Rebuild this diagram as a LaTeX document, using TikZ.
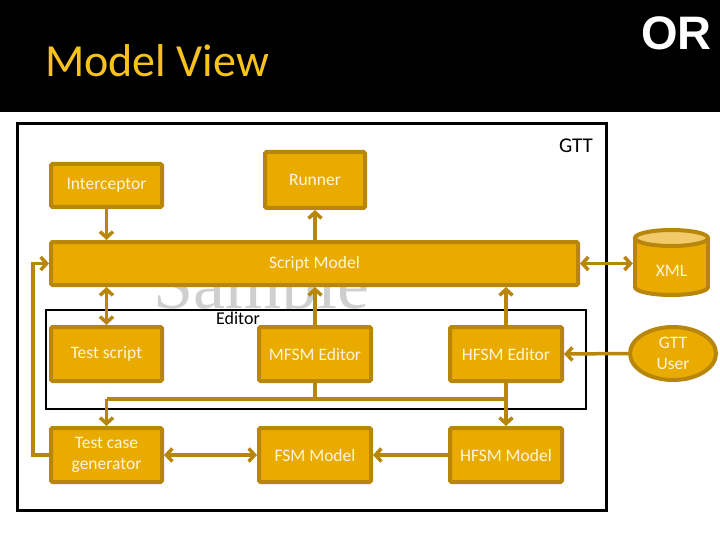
\documentclass[tikz,border=0pt]{standalone}
\usepackage{fontspec}
\setmainfont{Carlito}
\newfontfamily\arialf{Liberation Sans}
\newfontfamily\serifw{Liberation Serif}
\usetikzlibrary{arrows.meta,shapes.geometric}
\definecolor{boxfill}{HTML}{EAAB00}
\definecolor{boxline}{HTML}{B8860B}
\definecolor{boxtext}{HTML}{FFF6DA}
\definecolor{titley}{HTML}{F7C21C}
\definecolor{capfill}{HTML}{F2CA6A}
\definecolor{wmark}{HTML}{CFCFCF}
\begin{document}
\begin{tikzpicture}[x=1pt,y=-1pt,
  blk/.style={rectangle, rounded corners=1.5pt, draw=boxline, fill=boxfill, line width=4pt,
    text=boxtext, font=\fontsize{17.5}{21}\selectfont, align=center, inner sep=0pt},
  conn/.style={draw=boxline, line width=3.5pt},
  tipend/.style={-{Straight Barb[length=6pt,width=13pt]}},
  tipboth/.style={{Straight Barb[length=6pt,width=13pt]}-{Straight Barb[length=6pt,width=13pt]}},
  frame/.style={draw=black, line width=3pt},
  lbl/.style={text=black, font=\fontsize{18}{20}\selectfont, inner sep=0pt},
  cyl/.style={draw=boxline, line width=4pt}
]
\useasboundingbox (0,0) rectangle (720,540);
\fill[white] (0,0) rectangle (720,540);
\fill[black] (0,0) rectangle (720,112);
\node[anchor=base west, text=titley, font=\fontsize{46}{48}\selectfont, inner sep=0pt] (title) at (45,77) {Model View};
\node[anchor=base east, text=white, font=\arialf\bfseries\fontsize{47}{50}\selectfont, inner sep=0pt] (or) at (712,50) {OR};

% GTT frame
\draw[frame, fill=white] (17.5,123.5) rectangle (606.5,510.5);
\node[lbl, font=\fontsize{21}{22}\selectfont] (gttl) at (576,146) {GTT};

% watermark
\node[anchor=base, text=wmark, font=\serifw\fontsize{72}{72}\selectfont, inner sep=0pt] (wm) at (261,308) {Sample};

% Editor frame
\draw[draw=black, line width=2.5pt, fill=white] (46,310) rectangle (586,409);
\node[lbl] (edl) at (238,318.5) {Editor};

% nodes
\node[blk, minimum width=111pt, minimum height=43pt] (intc) at (106.5,185.5) {Interceptor};
\node[blk, minimum width=100pt, minimum height=56pt] (run) at (315,180) {Runner};
\node[blk, minimum width=527pt, minimum height=43pt] (sm) at (314.5,263.5) {Script Model};
\node[blk, minimum width=111pt, minimum height=54pt] (ts) at (106.5,354) {Test script};
\node[blk, minimum width=112pt, minimum height=54pt] (me) at (315,354) {MFSM Editor};
\node[blk, minimum width=112pt, minimum height=54pt] (he) at (506,354) {HFSM Editor};
\node[blk, minimum width=111pt, minimum height=54pt] (tcg) at (106.5,455) {Test case\\generator};
\node[blk, minimum width=112pt, minimum height=54pt] (fm) at (315,455) {FSM Model};
\node[blk, minimum width=112pt, minimum height=54pt] (hm) at (506,455) {HFSM Model};

% XML cylinder
\fill[boxfill] (635,238) rectangle (708,287);
\fill[boxfill] (671.5,287) ellipse [x radius=36.5pt, y radius=8pt];
\begin{scope}
  \clip (620,287) rectangle (720,300);
  \draw[cyl] (671.5,287) ellipse [x radius=36.5pt, y radius=8pt];
\end{scope}
\draw[cyl] (635,238) -- (635,287.5);
\draw[cyl] (708,238) -- (708,287.5);
\draw[cyl, fill=capfill] (671.5,238) ellipse [x radius=36.5pt, y radius=8pt];
\node[minimum width=77pt, minimum height=69pt, inner sep=0pt, text=boxtext,
  font=\fontsize{17.5}{21}\selectfont] (xml) at (671.5,262.5) {\raisebox{-7.5pt}[12pt][0pt]{XML}};

\node[ellipse, draw=boxline, fill=boxfill, line width=4pt, text=boxtext,
  font=\fontsize{17.5}{21}\selectfont, align=center, inner sep=0pt,
  minimum width=86pt, minimum height=53pt] (user) at (673,353.5) {GTT\\User};

% helper coordinates
\coordinate (lx) at (33,455);
\coordinate (jn) at (315,399);

% connectors
\draw[conn, tipend] (intc.south) -- (intc.south |- sm.north);
\draw[conn, tipend] (run.south |- sm.north) -- (run.south);
\draw[conn, tipend] (tcg.west) -- (lx) |- (sm.west);
\draw[conn, tipboth] (sm.east) -- (xml.west |- sm.east);
\draw[conn, tipboth] (ts.north) -- (ts.north |- sm.south);
\draw[conn, tipend] (me.north) -- (me.north |- sm.south);
\draw[conn, tipend] (he.north) -- (he.north |- sm.south);
\draw[conn, tipend] (user.west) -- (he.east);
\draw[conn, tipend] (he.south) -- (hm.north);
\draw[conn] (me.south) -- (jn);
\draw[conn] (jn -| he.south) -- (jn -| tcg.north);
\draw[conn, tipend] (jn -| tcg.north) -- (tcg.north);
\draw[conn, tipboth] (tcg.east) -- (fm.west);
\draw[conn, tipend] (hm.west) -- (fm.east);
\end{tikzpicture}
\end{document}
